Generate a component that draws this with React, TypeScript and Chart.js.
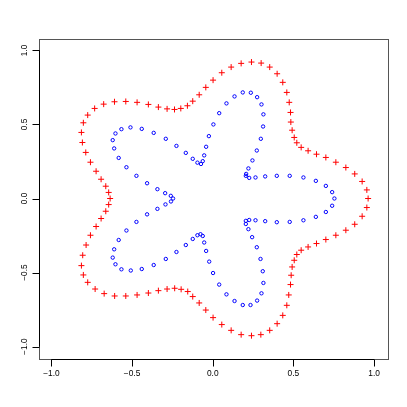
import React, { useEffect, useRef } from "react";
import { Chart, registerables } from "chart.js";

Chart.register(...registerables);

// Outer curve (red "+")
const outerX = [
  0.963, 0.955, 0.926, 0.880, 0.825, 0.763, 0.701, 0.643, 0.591, 0.548,
  0.521, 0.505, 0.492, 0.484, 0.482, 0.474, 0.459, 0.434, 0.399, 0.353,
  0.300, 0.240, 0.176, 0.114, 0.056, 0.002, -0.043, -0.084, -0.124, -0.157,
  -0.198, -0.237, -0.283, -0.337, -0.399, -0.469, -0.539, -0.609, -0.676, -0.732,
  -0.775, -0.802, -0.814, -0.808, -0.787, -0.758, -0.723, -0.692, -0.663, -0.645,
  -0.636,
  -0.645, -0.663, -0.692, -0.723, -0.758, -0.785, -0.806, -0.814, -0.802, -0.775,
  -0.729, -0.673, -0.608, -0.539, -0.469, -0.399, -0.337, -0.283, -0.236, -0.196,
  -0.155, -0.124, -0.084, -0.043, 0.002, 0.056, 0.114, 0.176, 0.240, 0.298,
  0.353, 0.399, 0.434, 0.459, 0.471, 0.482, 0.486, 0.492, 0.505, 0.521,
  0.548, 0.591, 0.643, 0.701, 0.763, 0.825, 0.880, 0.926, 0.955,
];
const outerY = [
  0.000, 0.058, 0.115, 0.166, 0.209, 0.245, 0.277, 0.299, 0.322, 0.345,
  0.376, 0.412, 0.461, 0.516, 0.581, 0.649, 0.716, 0.784, 0.842, 0.887,
  0.914, 0.921, 0.912, 0.887, 0.849, 0.799, 0.750, 0.700, 0.657, 0.626,
  0.608, 0.601, 0.605, 0.617, 0.635, 0.649, 0.655, 0.653, 0.637, 0.608,
  0.563, 0.511, 0.446, 0.378, 0.311, 0.245, 0.184, 0.130, 0.083, 0.041,
  0.000,
  -0.041, -0.086, -0.135, -0.189, -0.248, -0.314, -0.383, -0.453, -0.516, -0.566,
  -0.611, -0.642, -0.658, -0.658, -0.651, -0.638, -0.622, -0.611, -0.606, -0.613,
  -0.628, -0.662, -0.705, -0.753, -0.804, -0.851, -0.890, -0.919, -0.926, -0.919,
  -0.890, -0.845, -0.789, -0.721, -0.651, -0.581, -0.518, -0.462, -0.417, -0.378,
  -0.349, -0.327, -0.304, -0.277, -0.248, -0.214, -0.174, -0.120, -0.061,
];

// Inner curve (blue "o")
const innerX = [
  0.754, 0.740, 0.701, 0.639, 0.562, 0.477, 0.397, 0.325, 0.265, 0.226,
  0.205, 0.207, 0.221, 0.246, 0.273, 0.298, 0.312, 0.314, 0.302, 0.275,
  0.236, 0.186, 0.135, 0.085, 0.040, 0.004, -0.024, -0.041, -0.053, -0.062,
  -0.073, -0.095, -0.124, -0.167, -0.225, -0.291, -0.366, -0.440, -0.510, -0.566,
  -0.603, -0.620, -0.611, -0.583, -0.535, -0.473, -0.407, -0.343, -0.295, -0.260,
  -0.246, -0.259, -0.293, -0.343, -0.407, -0.473, -0.535, -0.583, -0.611, -0.620,
  -0.603, -0.566, -0.508, -0.440, -0.366, -0.291, -0.225, -0.167, -0.124, -0.095,
  -0.076, -0.062, -0.053, -0.041, -0.022, 0.002, 0.040, 0.085, 0.135, 0.186,
  0.234, 0.275, 0.302, 0.314, 0.310, 0.296, 0.273, 0.244, 0.221, 0.205,
  0.205, 0.226, 0.265, 0.325, 0.397, 0.477, 0.562, 0.639, 0.701, 0.740,
];
const innerY = [
  0.000, 0.043, 0.085, 0.119, 0.142, 0.153, 0.153, 0.149, 0.142, 0.139,
  0.153, 0.166, 0.203, 0.257, 0.324, 0.403, 0.486, 0.568, 0.635, 0.684,
  0.714, 0.716, 0.689, 0.642, 0.576, 0.500, 0.421, 0.349, 0.291, 0.252,
  0.233, 0.242, 0.268, 0.308, 0.355, 0.403, 0.443, 0.470, 0.480, 0.468,
  0.439, 0.394, 0.338, 0.274, 0.211, 0.153, 0.103, 0.063, 0.036, 0.018,
  0.000, -0.020, -0.040, -0.070, -0.107, -0.158, -0.216, -0.280, -0.343, -0.399,
  -0.444, -0.478, -0.486, -0.476, -0.449, -0.408, -0.361, -0.314, -0.273, -0.248,
  -0.241, -0.253, -0.297, -0.354, -0.426, -0.503, -0.581, -0.647, -0.692, -0.719,
  -0.719, -0.689, -0.640, -0.570, -0.491, -0.408, -0.329, -0.261, -0.207, -0.172,
  -0.151, -0.145, -0.147, -0.153, -0.160, -0.158, -0.147, -0.124, -0.091, -0.049,
];

const tickValues = [-1, -0.5, 0, 0.5, 1];
const tickLabels = ["\u22121.0", "\u22120.5", "0.0", "0.5", "1.0"];
const axisMin = -1.08;
const axisMax = 1.08;

const toPoints = (xs: number[], ys: number[]) => xs.map((x, i) => ({ x, y: ys[i] }));

const rAxesPlugin = {
  id: "rAxes",
  afterDraw(chart: any) {
    const { ctx, chartArea } = chart;
    const xs = chart.scales.x;
    const ys = chart.scales.y;
    const { left, right, top, bottom } = chartArea;
    ctx.save();
    // box
    ctx.strokeStyle = "#555555";
    ctx.lineWidth = 1;
    ctx.strokeRect(Math.round(left) + 0.5, Math.round(top) + 0.5, Math.round(right - left), Math.round(bottom - top));
    ctx.strokeStyle = "#000000";
    ctx.fillStyle = "#000000";
    ctx.font = "8.4px 'Liberation Sans', Arial, sans-serif";
    const tl = 7;
    const bx = Math.round(bottom) + 0.5;
    const ly = Math.round(left) + 0.5;
    // x axis line and ticks
    const x0 = xs.getPixelForValue(tickValues[0]);
    const x1 = xs.getPixelForValue(tickValues[tickValues.length - 1]);
    ctx.beginPath();
    ctx.moveTo(x0, bx);
    ctx.lineTo(x1, bx);
    tickValues.forEach((v) => {
      const px = Math.round(xs.getPixelForValue(v)) + 0.5;
      ctx.moveTo(px, bx);
      ctx.lineTo(px, bx + tl);
    });
    // y axis line and ticks
    const y0 = ys.getPixelForValue(tickValues[0]);
    const y1 = ys.getPixelForValue(tickValues[tickValues.length - 1]);
    ctx.moveTo(ly, y0);
    ctx.lineTo(ly, y1);
    tickValues.forEach((v) => {
      const py = Math.round(ys.getPixelForValue(v)) + 0.5;
      ctx.moveTo(ly, py);
      ctx.lineTo(ly - tl, py);
    });
    ctx.stroke();
    // labels
    ctx.textAlign = "center";
    ctx.textBaseline = "middle";
    tickValues.forEach((v, i) => {
      const px = xs.getPixelForValue(v);
      ctx.fillText(tickLabels[i], px, bottom + 15);
    });
    tickValues.forEach((v, i) => {
      const py = ys.getPixelForValue(v);
      ctx.save();
      ctx.translate(left - 14, py);
      ctx.rotate(-Math.PI / 2);
      ctx.fillText(tickLabels[i], 0, 0);
      ctx.restore();
    });
    ctx.restore();
  },
};

export default function App() {
  const ref = useRef<HTMLCanvasElement | null>(null);
  useEffect(() => {
    if (!ref.current) return;
    const chart = new Chart(ref.current, {
      type: "scatter",
      data: {
        datasets: [
          {
            label: "outer",
            data: toPoints(outerX, outerY),
            pointStyle: "cross",
            pointRadius: 3,
            pointBorderColor: "#FF0000",
            pointBorderWidth: 1,
            pointBackgroundColor: "#FF0000",
            showLine: false,
          },
          {
            label: "inner",
            data: toPoints(innerX, innerY),
            pointStyle: "circle",
            pointRadius: 1.7,
            pointBorderColor: "#0000FF",
            pointBorderWidth: 1,
            pointBackgroundColor: "rgba(0,0,0,0)",
            showLine: false,
          },
        ],
      },
      options: {
        animation: false,
        responsive: false,
        maintainAspectRatio: false,
        layout: { padding: { left: 38.5, top: 38.5, right: 20, bottom: 48.5 } },
        plugins: { legend: { display: false }, tooltip: { enabled: false } },
        scales: {
          x: { type: "linear", min: axisMin, max: axisMax, display: false },
          y: { type: "linear", min: axisMin, max: axisMax, display: false },
        },
      },
      plugins: [rAxesPlugin],
    });
    return () => chart.destroy();
  }, []);
  return (
    <div style={{ position: "absolute", left: 0, top: 0, width: 407, height: 407, background: "#fff" }}>
      <canvas ref={ref} width={407} height={407} style={{ width: 407, height: 407 }} />
    </div>
  );
}
